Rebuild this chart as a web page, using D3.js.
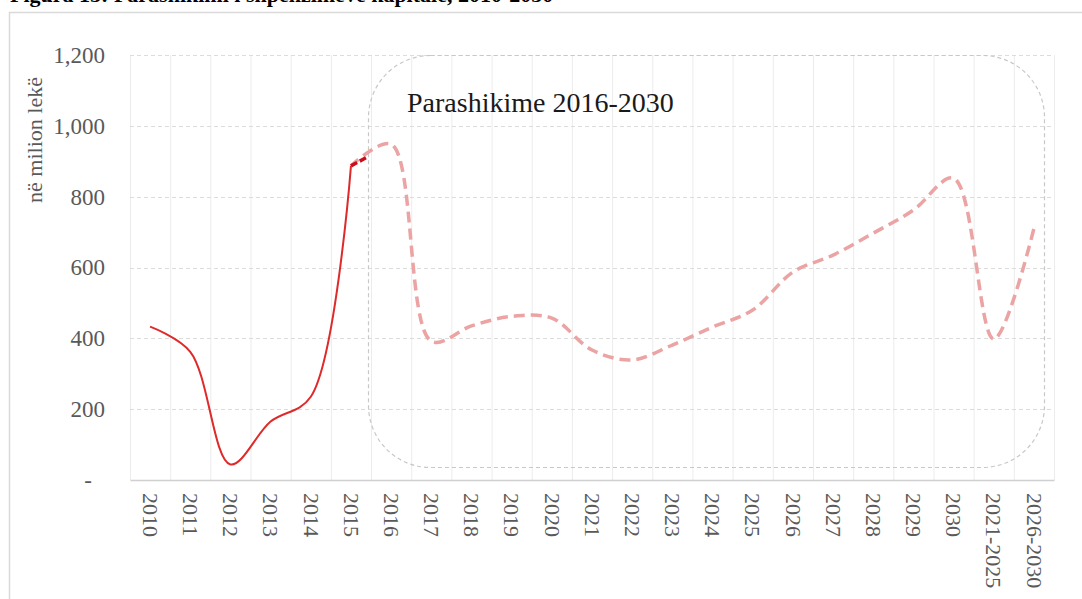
<!DOCTYPE html>
<html>
<head>
<meta charset="utf-8">
<script src="https://cdn.jsdelivr.net/npm/d3@7/dist/d3.min.js"></script>
<style>
  html, body { margin: 0; padding: 0; background: #fff; }
  svg { display: block; }
</style>
</head>
<body>
<svg id="chart" width="1082" height="599"></svg>
<script>
// ---- data ----
const categories = ["2010","2011","2012","2013","2014","2015","2016","2017","2018","2019","2020",
  "2021","2022","2023","2024","2025","2026","2027","2028","2029","2030","2021-2025","2026-2030"];
const actualCats = ["2010","2011","2012","2013","2014","2015"];
const actualValues = [433, 362, 44, 165, 235, 887];
const forecastCats = ["2015","2016","2017","2018","2019","2020","2021","2022","2023","2024","2025",
  "2026","2027","2028","2029","2030","2021-2025","2026-2030"];
const forecastValues = [887, 948, 392, 435, 462, 457, 367, 339, 381, 432, 480, 587, 635, 697, 762, 852, 398, 710];
const bridgeCats = ["2015","2016"];
const bridgeValues = [887, 948];
const yTicks = [0, 200, 400, 600, 800, 1000, 1200];
const yTickLabels = ["-", "200", "400", "600", "800", "1,000", "1,200"];
const titleText = "Figura 15: Parashikimi i shpenzimeve kapitale, 2010-2030";
const yTitle = "në milion lekë";
const annotation = "Parashikime 2016-2030";

// ---- layout ----
const svg = d3.select("#chart");
const pLeft = 130, pRight = 1054, pTop = 55, pBottom = 480;
const x = d3.scaleBand().domain(categories).range([pLeft, pRight]);
const y = d3.scaleLinear().domain([0, 1200]).range([pBottom, pTop]);
const cx = c => x(c) + x.bandwidth() / 2;
const serif = "'Liberation Serif', 'Times New Roman', serif";

// outer frame
svg.append("rect").attr("x", 9.5).attr("y", 12.5).attr("width", 1100).attr("height", 700)
  .attr("fill", "none").attr("stroke", "#d9d9d9").attr("stroke-width", 1.5);

// clipped title (only bottom part visible, as in the reference)
svg.append("text").attr("x", 10).attr("y", 1.5).attr("font-family", serif)
  .attr("font-size", 22).attr("font-weight", "bold").attr("fill", "#000").text(titleText);

// vertical gridlines at band boundaries
const bounds = categories.map(c => x(c)).concat([pRight]);
svg.append("g").selectAll("line").data(bounds).join("line")
  .attr("x1", d => d + 0.5).attr("x2", d => d + 0.5).attr("y1", pTop).attr("y2", pBottom)
  .attr("stroke", "#ececec").attr("stroke-width", 1);

// horizontal gridlines
svg.append("g").selectAll("line").data(yTicks.slice(1)).join("line")
  .attr("x1", pLeft).attr("x2", pRight).attr("y1", d => Math.round(y(d)) + 0.5).attr("y2", d => Math.round(y(d)) + 0.5)
  .attr("stroke", "#dcdcdc").attr("stroke-dasharray", "4,3").attr("stroke-width", 1);

// y axis labels
const yAxis = d3.axisLeft(y).tickValues(yTicks).tickSize(0).tickPadding(0)
  .tickFormat((d, i) => yTickLabels[i]);
const gy = svg.append("g").attr("transform", `translate(${pLeft - 25},0)`).call(yAxis);
gy.select(".domain").remove();
gy.selectAll("text").attr("font-family", serif).attr("font-size", 23).attr("fill", "#595959")
  .attr("dx", (d) => d === 0 ? -13 : 0);

// x axis
const xAxis = d3.axisBottom(x).tickSize(0).tickPadding(0);
const gx = svg.append("g").attr("transform", `translate(0,${pBottom})`).call(xAxis);
gx.select(".domain").attr("stroke", "#d0d0d0").attr("stroke-width", 1.5);
gx.selectAll("text").attr("font-family", serif).attr("font-size", 22).attr("fill", "#595959")
  .attr("text-anchor", "start")
  .attr("transform", "translate(0,13) rotate(90)")
  .attr("x", 0).attr("y", 0).attr("dy", "0.33em");

// y title
svg.append("text").attr("transform", "translate(42,140) rotate(-90)")
  .attr("text-anchor", "middle").attr("font-family", serif).attr("font-size", 22)
  .attr("fill", "#595959").text(yTitle);

// annotation rounded box
svg.append("rect").attr("x", 368.5).attr("y", 55.5).attr("width", 1044 - 368).attr("height", 467 - 55)
  .attr("rx", 62).attr("ry", 62).attr("fill", "none")
  .attr("stroke", "#c8c8c8").attr("stroke-dasharray", "4,3").attr("stroke-width", 1.2);
svg.append("text").attr("x", 407).attr("y", 112).attr("font-family", serif).attr("font-size", 28)
  .attr("fill", "#1a1a1a").text(annotation);

// lines
const line = d3.line().x(d => cx(d[0])).y(d => y(d[1])).curve(d3.curveCatmullRom.alpha(0.5));

svg.append("path").datum(forecastCats.map((c, i) => [c, forecastValues[i]]))
  .attr("d", line).attr("fill", "none").attr("stroke", "#eba3a3")
  .attr("stroke-width", 3.5).attr("stroke-dasharray", "11,6").attr("stroke-dashoffset", -16);

svg.append("path").datum(bridgeCats.map((c, i) => [c, bridgeValues[i]]))
  .attr("d", line).attr("fill", "none").attr("stroke", "#c8101a")
  .attr("stroke-width", 3.5).attr("stroke-dasharray", "7,3,7,1000");

svg.append("path").datum(actualCats.map((c, i) => [c, actualValues[i]]))
  .attr("d", line).attr("fill", "none").attr("stroke", "#de2a2a").attr("stroke-width", 2);
</script>
</body>
</html>
